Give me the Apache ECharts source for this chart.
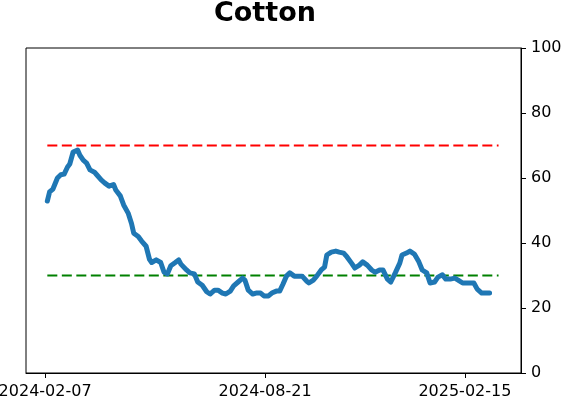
<!DOCTYPE html>
<html>
<head>
<meta charset="utf-8">
<script src="https://cdn.jsdelivr.net/npm/echarts@6/dist/echarts.min.js"></script>
<style>
  html, body { margin: 0; padding: 0; background: #fff; }
  #chart { width: 562px; height: 402px; }
</style>
</head>
<body>
<div id="chart"></div>
<script>
const dates = [
  '2024-02-09', '2024-02-11', '2024-02-14', '2024-02-18', '2024-02-21', '2024-02-24', '2024-02-27', '2024-02-29',
  '2024-03-03', '2024-03-07', '2024-03-09', '2024-03-12', '2024-03-15', '2024-03-18', '2024-03-22', '2024-03-24',
  '2024-03-28', '2024-03-31', '2024-04-04', '2024-04-08', '2024-04-10', '2024-04-14', '2024-04-17', '2024-04-21',
  '2024-04-24', '2024-04-26', '2024-04-30', '2024-05-03', '2024-05-07', '2024-05-10', '2024-05-12', '2024-05-16',
  '2024-05-20', '2024-05-23', '2024-05-26', '2024-05-29', '2024-06-02', '2024-06-05', '2024-06-07', '2024-06-12',
  '2024-06-15', '2024-06-19', '2024-06-22', '2024-06-26', '2024-06-30', '2024-07-03', '2024-07-07', '2024-07-10',
  '2024-07-14', '2024-07-17', '2024-07-21', '2024-07-24', '2024-07-28', '2024-08-01', '2024-08-03', '2024-08-06',
  '2024-08-10', '2024-08-13', '2024-08-17', '2024-08-20', '2024-08-24', '2024-08-27', '2024-08-31', '2024-09-03',
  '2024-09-06', '2024-09-09', '2024-09-12', '2024-09-16', '2024-09-20', '2024-09-23', '2024-09-27', '2024-09-29',
  '2024-10-03', '2024-10-06', '2024-10-10', '2024-10-13', '2024-10-15', '2024-10-19', '2024-10-23', '2024-10-26',
  '2024-10-30', '2024-11-02', '2024-11-06', '2024-11-09', '2024-11-13', '2024-11-16', '2024-11-20', '2024-11-24',
  '2024-11-27', '2024-12-01', '2024-12-04', '2024-12-08', '2024-12-11', '2024-12-15', '2024-12-19', '2024-12-21',
  '2024-12-25', '2024-12-28', '2025-01-01', '2025-01-05', '2025-01-08', '2025-01-12', '2025-01-15', '2025-01-19',
  '2025-01-22', '2025-01-26', '2025-01-29', '2025-02-02', '2025-02-06', '2025-02-09', '2025-02-13', '2025-02-16',
  '2025-02-20', '2025-02-23', '2025-02-26', '2025-03-02', '2025-03-05', '2025-03-09'
]

const values = [
  52.9, 55.7, 56.6, 60.0, 61.0, 61.2, 63.4, 64.3,
  68.0, 68.6, 67.0, 65.5, 64.6, 62.5, 61.8, 61.0,
  59.4, 58.5, 57.5, 58.0, 56.3, 54.5, 51.7, 49.2,
  46.0, 43.0, 42.0, 40.6, 39.0, 35.0, 34.0, 34.8,
  34.0, 31.0, 30.5, 33.0, 34.0, 34.8, 33.5, 31.7,
  30.8, 30.5, 28.0, 27.0, 25.0, 24.3, 25.5, 25.5,
  24.6, 24.3, 25.2, 26.8, 28.0, 29.2, 28.6, 25.5,
  24.3, 24.6, 24.6, 23.7, 23.7, 24.6, 25.2, 25.2,
  27.4, 29.8, 30.8, 29.8, 29.8, 29.8, 28.3, 27.7,
  28.6, 29.8, 31.7, 32.6, 36.3, 37.2, 37.5, 37.2,
  36.9, 35.7, 33.8, 32.3, 33.2, 34.2, 33.2, 31.7,
  31.0, 31.7, 31.7, 28.9, 28.0, 30.8, 33.8, 36.3,
  36.9, 37.5, 36.6, 34.2, 31.7, 30.8, 27.7, 28.0,
  29.5, 30.2, 28.9, 28.9, 29.2, 28.6, 27.7, 27.7,
  27.7, 27.7, 25.8, 24.6, 24.6, 24.6
]

const xTickLabels = ['2024-02-07', '2024-08-21', '2025-02-15']
const yTickLabels = [0, 20, 40, 60, 80, 100]
const upperLevel = 70
const lowerLevel = 30
const levelSpan = ['2024-02-09', '2025-03-17']

const toTime = s => new Date(s + 'T00:00:00Z').getTime()
const fmtDate = v => new Date(v).toISOString().slice(0, 10)

const chart = echarts.init(document.getElementById('chart'))

const xTicks = xTickLabels.map(toTime)

chart.setOption({
  animation: false,
  title: {
    text: 'Cotton',
    left: 214,
    top: 0,
    padding: 0,
    textStyle: {
      fontFamily: 'DejaVu Sans',
      fontWeight: 'bold',
      fontSize: 27,
      color: '#000'
    }
  },
  grid: {
    left: 26,
    right: 41,
    top: 48,
    bottom: 29,
    outerBoundsMode: 'none',
    containLabel: false,
    show: true,
    borderColor: '#000',
    borderWidth: 1
  },
  xAxis: {
    type: 'value',
    min: toTime('2024-01-21'),
    max: toTime('2025-04-06'),
    splitLine: { show: false },
    axisLine: { show: true, onZero: false, lineStyle: { color: '#000', width: 1 } },
    axisTick: {
      show: true,
      length: 5,
      customValues: xTicks,
      lineStyle: { color: '#000' }
    },
    axisLabel: {
      customValues: xTicks,
      margin: 11,
      fontSize: 16,
      fontFamily: 'DejaVu Sans',
      color: '#000',
      formatter: v => fmtDate(v)
    }
  },
  yAxis: {
    type: 'value',
    position: 'right',
    min: yTickLabels[0],
    max: yTickLabels[yTickLabels.length - 1],
    interval: 20,
    splitLine: { show: false },
    axisLine: { show: true, lineStyle: { color: '#000', width: 1 } },
    axisTick: { show: true, length: 5, lineStyle: { color: '#000' } },
    axisLabel: {
      margin: 10,
      fontSize: 16,
      fontFamily: 'DejaVu Sans',
      color: '#000'
    }
  },
  series: [
    {
      type: 'line',
      data: levelSpan.map(d => [toTime(d), upperLevel]),
      showSymbol: false,
      lineStyle: { color: '#ff0000', width: 2, type: [10, 4.5] },
      z: 1
    },
    {
      type: 'line',
      data: levelSpan.map(d => [toTime(d), lowerLevel]),
      showSymbol: false,
      lineStyle: { color: '#008000', width: 2, type: [10, 4.5] },
      z: 1
    },
    {
      type: 'line',
      data: dates.map((d, i) => [toTime(d), values[i]]),
      showSymbol: false,
      lineStyle: { color: '#1f77b4', width: 5, join: 'round', cap: 'round' },
      z: 2
    }
  ]
})
</script>
</body>
</html>
